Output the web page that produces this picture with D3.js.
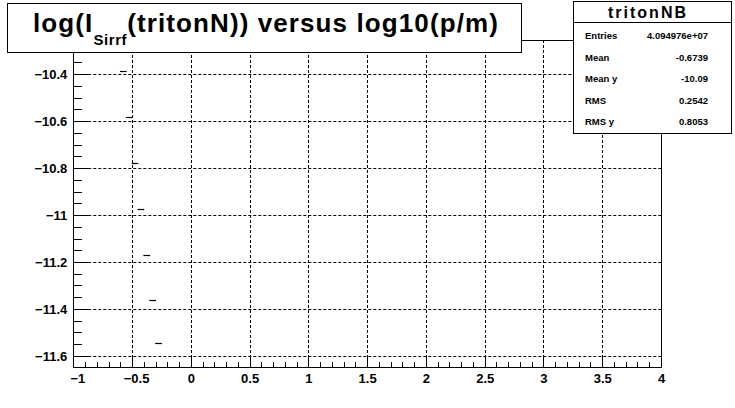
<!DOCTYPE html>
<html>
<head>
<meta charset="utf-8">
<script src="https://cdn.jsdelivr.net/npm/d3@7/dist/d3.min.js"></script>
<style>
  html, body { margin: 0; padding: 0; background: #fff; }
  svg { display: block; }
  text { font-family: "Liberation Sans", Arial, Helvetica, sans-serif; font-weight: bold; fill: #000; }
</style>
</head>
<body>
<svg id="chart" width="735" height="408"></svg>
<script>
// ---- data ----
const binCenters = [-0.575, -0.525, -0.475, -0.425, -0.375, -0.325, -0.275];
const yValues = [-10.386, -10.582, -10.779, -10.974, -11.170, -11.362, -11.545];
const binWidth = 0.057;
const xTicks = [-1, -0.5, 0, 0.5, 1, 1.5, 2, 2.5, 3, 3.5, 4];
const yTicks = [-10.4, -10.6, -10.8, -11, -11.2, -11.4, -11.6];
const xDomain = [-1, 4];
const yDomain = [-11.647, -10.255];
const statsTitle = "tritonNB";
const statsLabels = ["Entries", "Mean", "Mean y", "RMS", "RMS y"];
const statsValues = ["4.094976e+07", "-0.6739", "-10.09", "0.2542", "0.8053"];

// ---- layout ----
const frame = { left: 73.3, right: 661, top: 40, bottom: 367 };
const svg = d3.select("#chart");

const x = d3.scaleLinear().domain(xDomain).range([frame.left, frame.right]);
const y = d3.scaleLinear().domain(yDomain).range([frame.bottom, frame.top]);

// grid
const g = svg.append("g");
g.selectAll("line.vgrid").data(xTicks.filter(t => t > xDomain[0] && t < xDomain[1]))
  .join("line").attr("class", "vgrid")
  .attr("x1", d => Math.round(x(d)) + 0.5).attr("x2", d => Math.round(x(d)) + 0.5)
  .attr("y1", frame.top).attr("y2", frame.bottom)
  .attr("stroke", "#000").attr("stroke-width", 1).attr("stroke-dasharray", "3,2");
g.selectAll("line.hgrid").data(yTicks)
  .join("line").attr("class", "hgrid")
  .attr("x1", frame.left).attr("x2", frame.right)
  .attr("y1", d => Math.round(y(d)) + 0.5).attr("y2", d => Math.round(y(d)) + 0.5)
  .attr("stroke", "#000").attr("stroke-width", 1).attr("stroke-dasharray", "3,2");

// data segments
g.selectAll("line.seg").data(binCenters)
  .join("line").attr("class", "seg")
  .attr("x1", (d) => x(d - binWidth / 2)).attr("x2", (d) => x(d + binWidth / 2))
  .attr("y1", (d, i) => Math.round(y(yValues[i])) + 0.5)
  .attr("y2", (d, i) => Math.round(y(yValues[i])) + 0.5)
  .attr("stroke", "#000").attr("stroke-width", 1.2);

// x axis
const xMinor = d3.range(-1, 4.0001, 0.1).map(v => +v.toFixed(2));
const xAxisG = svg.append("g").attr("transform", `translate(0,${frame.bottom})`);
xAxisG.call(d3.axisBottom(x).tickValues(xMinor).tickSize(0).tickFormat(""));
xAxisG.select(".domain").remove();
xAxisG.selectAll(".tick line").remove();
xAxisG.selectAll(".tick").append("line")
  .attr("y1", 0)
  .attr("y2", d => (Math.abs(d * 2 - Math.round(d * 2)) < 1e-6) ? -10 : -5)
  .attr("stroke", "#000").attr("shape-rendering", "crispEdges");
const xLab = svg.append("g").attr("transform", `translate(0,${frame.bottom})`)
  .call(d3.axisBottom(x).tickValues(xTicks).tickSize(0).tickFormat(d => d3.format("")(d)));
xLab.select(".domain").remove();
xLab.selectAll("text")
  .attr("font-size", 13).attr("font-family", "Liberation Sans, Arial, sans-serif")
  .attr("font-weight", "bold").attr("fill", "#000")
  .attr("dy", 0).attr("y", 16)
  .attr("dx", d => d < 0 ? 4 : 0);

// y axis
const yMinor = d3.range(-11.6, -10.2999, 0.05).map(v => +v.toFixed(2));
const yAxisG = svg.append("g").attr("transform", `translate(${frame.left},0)`);
yAxisG.call(d3.axisLeft(y).tickValues(yMinor).tickSize(0).tickFormat(""));
yAxisG.select(".domain").remove();
yAxisG.selectAll(".tick line").remove();
yAxisG.selectAll(".tick").append("line")
  .attr("x1", 0)
  .attr("x2", d => (Math.abs(d * 5 - Math.round(d * 5)) < 1e-6) ? 18 : 9)
  .attr("stroke", "#000").attr("shape-rendering", "crispEdges");
const yLab = svg.append("g").attr("transform", `translate(${frame.left},0)`)
  .call(d3.axisLeft(y).tickValues(yTicks).tickSize(0).tickFormat(d => d3.format("")(d)));
yLab.select(".domain").remove();
yLab.selectAll("text")
  .attr("font-size", 13).attr("font-family", "Liberation Sans, Arial, sans-serif")
  .attr("font-weight", "bold").attr("fill", "#000")
  .attr("x", -6).attr("dy", "0.35em");

// frame
svg.append("rect")
  .attr("x", Math.round(frame.left) + 0.5).attr("y", frame.top + 0.5)
  .attr("width", Math.round(frame.right - frame.left)).attr("height", frame.bottom - frame.top)
  .attr("fill", "none").attr("stroke", "#000").attr("stroke-width", 1);

// title box
svg.append("rect").attr("x", 7.5).attr("y", 3.5).attr("width", 514).attr("height", 49)
  .attr("fill", "#fff").attr("stroke", "#000").attr("stroke-width", 1);
const title = svg.append("text").attr("x", 33).attr("y", 32).attr("font-size", 26)
  .attr("letter-spacing", 1.1);
title.append("tspan").text("log(I");
title.append("tspan").attr("font-size", 15).attr("dy", 13).attr("letter-spacing", 0.6).text("Sirrf");
title.append("tspan").attr("dy", -13).text("(tritonN)) versus log10(p/m)");

// stats box
const sb = { x: 573.5, y: 1.5, w: 158, h: 132 };
svg.append("rect").attr("x", sb.x).attr("y", sb.y).attr("width", sb.w).attr("height", sb.h)
  .attr("fill", "#fff").attr("stroke", "#000").attr("stroke-width", 1);
svg.append("line").attr("x1", sb.x).attr("x2", sb.x + sb.w).attr("y1", 22.5).attr("y2", 22.5)
  .attr("stroke", "#000");
svg.append("text").attr("x", 648).attr("y", 18).attr("text-anchor", "middle")
  .attr("font-size", 16).attr("letter-spacing", 2).text(statsTitle);
const rowY = [38.5, 60.5, 81.5, 103.5, 124.5];
svg.selectAll("text.slab").data(statsLabels).join("text").attr("class", "slab")
  .attr("x", 585).attr("y", (d, i) => rowY[i]).attr("font-size", 9.5).text(d => d);
svg.selectAll("text.sval").data(statsValues).join("text").attr("class", "sval")
  .attr("x", 708).attr("y", (d, i) => rowY[i]).attr("font-size", 9.5)
  .attr("text-anchor", "end").text(d => d);
</script>
</body>
</html>
